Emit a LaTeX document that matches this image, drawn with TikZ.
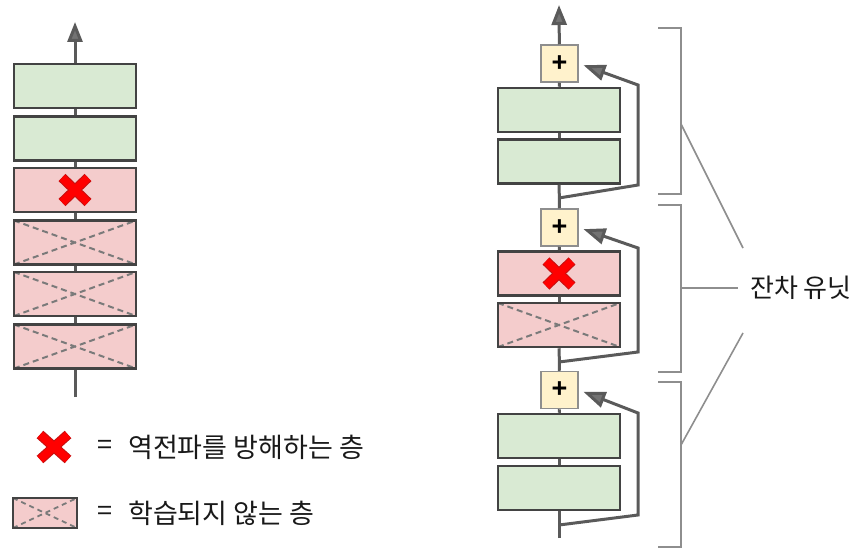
\documentclass[tikz,border=0pt]{standalone}
\usepackage{fontspec}
\setmainfont{Liberation Sans}
\newfontfamily\kr{Noto Sans CJK KR}
\usetikzlibrary{arrows.meta}
\definecolor{greenfill}{HTML}{D9EAD3}
\definecolor{pinkfill}{HTML}{F4CCCC}
\definecolor{plusfill}{HTML}{FFF2CC}
\definecolor{boxline}{HTML}{434343}
\definecolor{stemcol}{HTML}{5A5A5A}
\definecolor{dashcol}{HTML}{7A7A7A}
\definecolor{brackcol}{HTML}{8E8E8E}
\definecolor{xred}{HTML}{FF0000}
\definecolor{xdark}{HTML}{C81010}
\begin{document}
\begin{tikzpicture}[x=1pt,y=-1pt,
  layerbox/.style={draw=boxline, line width=2.5pt, minimum width=122pt, minimum height=44pt, inner sep=0pt},
  greenbox/.style={layerbox, fill=greenfill},
  pinkbox/.style={layerbox, fill=pinkfill},
  crossed/.style={path picture={\draw[dashcol, line width=2pt, dash pattern=on 6pt off 4pt]
      (path picture bounding box.north west) -- (path picture bounding box.south east)
      (path picture bounding box.south west) -- (path picture bounding box.north east);}},
  smallcrossed/.style={path picture={\draw[dashcol, line width=1.8pt, dash pattern=on 5pt off 4pt]
      (path picture bounding box.north west) -- (path picture bounding box.south east)
      (path picture bounding box.south west) -- (path picture bounding box.north east);}},
  plusbox/.style={draw=brackcol, fill=plusfill, line width=1.5pt, minimum size=37pt, inner sep=0pt, font=\bfseries\fontsize{27}{27}\selectfont},
  stem/.style={draw=stemcol, line width=3pt},
  arrowstem/.style={stem, -{Triangle[length=20pt,width=15pt,fill=stemcol!85]}},
  skip/.style={stem, line join=miter, -{Triangle[length=22pt,width=16pt,fill=stemcol!85]}, shorten >=5pt},
  xouter/.style={draw=xdark, line width=10pt},
  xinner/.style={draw=xred, line width=7.8pt},
  brack/.style={draw=brackcol, line width=1.8pt},
  legtext/.style={font=\kr\fontsize{27}{27}\selectfont, anchor=west, inner sep=0pt, text=black!90},
]
\useasboundingbox (0,0) rectangle (861,548);

% ---------- left column ----------
\coordinate (lbot) at (75,397);
\coordinate (ltop) at (75,22);
\node[greenbox] (l1) at (75,86) {};
\node[greenbox] (l2) at (75,138.5) {};
\node[pinkbox] (l3) at (75,190) {};
\node[pinkbox,crossed] (l4) at (75,242.5) {};
\node[pinkbox,crossed] (l5) at (75,294) {};
\node[pinkbox,crossed] (l6) at (75,346.5) {};
\draw[stem] (lbot) -- (l6);
\draw[stem] (l6) -- (l5);
\draw[stem] (l5) -- (l4);
\draw[stem] (l4) -- (l3);
\draw[stem] (l3) -- (l2);
\draw[stem] (l2) -- (l1);
\draw[arrowstem] (l1) -- (ltop);
\draw[xouter, shift={(l3.center)}] (-13,-12.5) -- (13,12.5) (-13,12.5) -- (13,-12.5);
\draw[xinner, shift={(l3.center)}] (-12.8,-12.3) -- (12.8,12.3) (-12.8,12.3) -- (12.8,-12.3);

% ---------- legend ----------
\coordinate (legx) at (54,447);
\draw[xouter, shift={(legx)}] (-14,-12.5) -- (14,12.5) (-14,12.5) -- (14,-12.5);
\draw[xinner, shift={(legx)}] (-13.8,-12.3) -- (13.8,12.3) (-13.8,12.3) -- (13.8,-12.3);
\node[legtext, anchor=center] (eq1) at (105,447) {=};
\node[legtext] (t1) at (128,447) {역전파를 방해하는 층};
\node[draw=boxline, line width=2.4pt, fill=pinkfill, minimum width=64pt, minimum height=30pt, inner sep=0pt, smallcrossed] (legbox) at (45,513) {};
\node[legtext, anchor=center] (eq2) at (105,513) {=};
\node[legtext] (t2) at (128,513) {학습되지 않는 층};

% ---------- right column ----------
\coordinate (rbot) at (559,538);
\coordinate (rtop) at (559,5);
% unit 1
\node[plusbox] (p1) at (559.5,63.5) {+};
\node[greenbox] (g1a) at (559,110) {};
\node[greenbox] (g1b) at (559,161.5) {};
\coordinate (b1) at (559,198);
% unit 2
\node[plusbox] (p2) at (559.5,227.5) {+};
\node[pinkbox] (r2) at (559,273.5) {};
\node[pinkbox,crossed] (d2) at (559,325) {};
\coordinate (b2) at (559,362);
% unit 3
\node[plusbox] (p3) at (559.5,390) {+};
\node[greenbox] (g3a) at (559,436) {};
\node[greenbox] (g3b) at (559,488) {};
\coordinate (b3) at (559,525);

\draw[stem] (rbot) -- (g3b);
\draw[stem] (g3b) -- (g3a);
\draw[stem] (g3a) -- (p3);
\draw[stem] (p3) -- (d2);
\draw[stem] (d2) -- (r2);
\draw[stem] (r2) -- (p2);
\draw[stem] (p2) -- (g1b);
\draw[stem] (g1b) -- (g1a);
\draw[stem] (g1a) -- (p1);
\draw[arrowstem] (p1) -- (rtop);

\draw[skip] (b1) -- (638,185) -- (638,85) -- (p1.east);
\draw[skip] (b2) -- (638,352) -- (638,248) -- (p2.east);
\draw[skip] (b3) -- (638,515) -- (638,413) -- (p3.east);

\draw[xouter, shift={(r2.center)}] (-13,-12.5) -- (13,12.5) (-13,12.5) -- (13,-12.5);
\draw[xinner, shift={(r2.center)}] (-12.8,-12.3) -- (12.8,12.3) (-12.8,12.3) -- (12.8,-12.3);

% ---------- brackets ----------
\draw[brack] (658,28) -- (681,28) -- (681,194) -- (658,194);
\draw[brack] (658,205) -- (681,205) -- (681,372) -- (658,372);
\draw[brack] (658,382) -- (681,382) -- (681,547) -- (658,547);
\coordinate (m1) at (681,124);
\coordinate (m2) at (681,288);
\coordinate (m3) at (681,445);
\coordinate (e1) at (743,248);
\coordinate (e3) at (743,333);
\node[font=\kr\fontsize{26}{26}\selectfont, anchor=west, inner sep=0pt, text=black!90] (lab) at (750,288) {잔차 유닛};
\draw[brack, line width=1.6pt] (m1) -- (e1);
\draw[brack, line width=1.6pt] (m2) -- (738,288);
\draw[brack, line width=1.6pt] (m3) -- (e3);
\end{tikzpicture}
\end{document}
